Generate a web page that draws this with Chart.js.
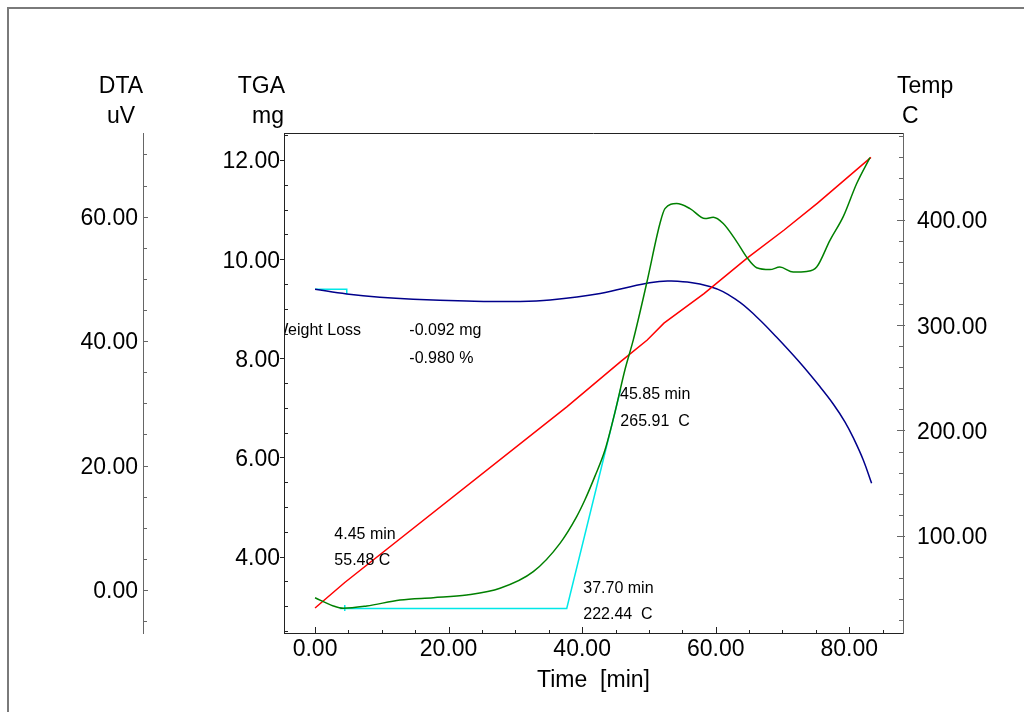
<!DOCTYPE html>
<html>
<head>
<meta charset="utf-8">
<title>TGA / DTA</title>
<script src="https://cdn.jsdelivr.net/npm/chart.js@4.4.0/dist/chart.umd.min.js"></script>
<style>
  html, body { margin: 0; padding: 0; background: #fff; }
  #wrap { position: relative; width: 1024px; height: 712px; }
</style>
</head>
<body>
<div id="wrap"><canvas id="thermoChart" width="1024" height="712"></canvas></div>
<script>
// Values (time in min)
const tempTime   = [0, 4.45, 37.7, 45.85, 49.75, 52.25, 58.25, 64.75, 70.25, 75.25, 83.25];
const tempValues = [31.3, 55.5, 222.4, 265.9, 286, 302, 330, 364, 390.5, 416, 459.6];

const tgaTime   = [0, 4.75, 9.7, 14.7, 22.7, 30.7, 35.2, 42.7, 49.7, 53.2, 59.1, 63.1, 66.1, 69.1, 72.5, 75.6, 77.6, 79.35, 80.6, 82.1, 83.35];
const tgaValues = [9.393, 9.298, 9.23, 9.19, 9.157, 9.147, 9.177, 9.31, 9.514, 9.56, 9.45, 9.18, 8.84, 8.43, 7.93, 7.43, 7.08, 6.72, 6.40, 5.95, 5.48];

const dtaTime   = [0, 2.74, 4.24, 7.74, 12.73, 17.71, 22.71, 27.7, 32.68, 36.68, 39.18, 40.42, 41.92, 43.42, 44.92, 46.41, 47.66, 49.66, 51.65, 52.4, 54.15, 56.15, 58.4, 59.63, 61.13, 63.14, 64.64, 66.13, 68.12, 69.61, 71.61, 73.62, 75.12, 77.11, 79.1, 81.1, 83.1];
const dtaValues = [-1.24, -2.57, -2.94, -2.57, -1.61, -1.24, -0.8, 0.27, 2.94, 7.5, 11.8, 14.5, 18.3, 22.5, 28.6, 35.4, 40.2, 49.3, 58.9, 61.3, 62.1, 61.3, 59.7, 59.9, 58.9, 56.0, 53.5, 51.8, 51.5, 51.9, 51.1, 51.2, 51.9, 56.2, 60.0, 65.3, 69.5];

// Onset construction on the DTA curve (baseline + tangent) and the marker at 4.45 min
const onsetTime   = [3.7, 37.69, 45.77];
const onsetValues = [-2.97, -2.97, 32.3];
const markTime    = [4.45, 4.45];
const markValues  = [-2.41, -3.38];

// Weight-loss step on the TGA curve
const stepTime   = [0, 4.75, 4.75];
const stepValues = [9.393, 9.393, 9.298];

// Axis ranges and labelled ticks
const timeRange = [-4.65, 88.05];
const tgaRange  = [2.46, 12.545];
const dtaRange  = [-6.91, 73.45];
const tempRange = [7.53, 482.7];

const timeTicks = [0, 20, 40, 60, 80];
const tgaTicks  = [4, 6, 8, 10, 12];
const dtaTicks  = [0, 20, 40, 60];
const tempTicks = [100, 200, 300, 400];

const FONT = '"Liberation Sans", Arial, sans-serif';

/**
 * Joins an x array and a y array into {x, y} points.
 */
function toPoints(xs, ys) {
    return xs.map((x, i) => ({ x: x, y: ys[i] }));
}

/**
 * Forces a scale to a fixed size so the plot area lands where it does in the original.
 */
function fixedSize(size) {
    return scale => {
        if (scale.isHorizontal()) scale.height = size;
        else scale.width = size;
        scale.paddingTop = 0;
        scale.paddingBottom = 0;
        scale.paddingLeft = 0;
        scale.paddingRight = 0;
    };
}

function axisOptions(position, range, tickValues, size, padding, borderColor, weight) {
    const vertical = position === 'left' || position === 'right';
    return {
        type: 'linear',
        position: position,
        min: range[0],
        max: range[1],
        weight: weight || 0,
        grid: { display: false, drawTicks: false },
        border: { display: true, color: borderColor, width: 1 },
        afterBuildTicks: scale => {
            scale.ticks = tickValues.map(v => ({ value: v }));
        },
        ticks: {
            autoSkip: false,
            padding: padding,
            labelOffset: vertical ? 2 : 0,
            color: '#000',
            font: { family: FONT, size: 23 },
            callback: v => Number(v).toFixed(2)
        },
        afterFit: fixedSize(size)
    };
}

// Minor/major tick marks drawn along each axis line
const tickMarks = [
    { id: 'x',    step: 5,   major: 20,  majorIn: 6, majorOut: 0, minorIn: 3 },
    { id: 'tga',  step: 0.5, major: 2,   majorIn: 0, majorOut: 4, minorIn: 4 },
    { id: 'dta',  step: 5,   major: 20,  majorIn: 5, majorOut: 0, minorIn: 4 },
    { id: 'temp', step: 20,  major: 100, majorIn: 6, majorOut: 2, minorIn: 4 }
];

// Text notes placed in data coordinates
const notes = [
    { text: 'Weight Loss', t: 6.89,  axis: 'tga', v: 8.471, align: 'right' },
    { text: '-0.092 mg',   t: 14.12, axis: 'tga', v: 8.471, align: 'left' },
    { text: '-0.980 %',    t: 14.12, axis: 'tga', v: 7.912, align: 'left' },
    { text: '4.45 min',    t: 2.89,  axis: 'dta', v: 8.15,  align: 'left' },
    { text: '55.48 C',     t: 2.89,  axis: 'dta', v: 4.02,  align: 'left' },
    { text: '37.70 min',   t: 40.17, axis: 'dta', v: -0.53, align: 'left' },
    { text: '222.44  C',   t: 40.17, axis: 'dta', v: -4.74, align: 'left' },
    { text: '45.85 min',   t: 45.67, axis: 'dta', v: 30.65, align: 'left' },
    { text: '265.91  C',   t: 45.72, axis: 'dta', v: 26.36, align: 'left' }
];

const decorPlugin = {
    id: 'decor',
    afterDraw(chart) {
        const { ctx, chartArea: area, scales } = chart;
        ctx.save();

        // outer frame (only left and top edges are visible)
        ctx.strokeStyle = '#7a7a7a';
        ctx.lineWidth = 2;
        ctx.beginPath();
        ctx.moveTo(8, 712);
        ctx.lineTo(8, 8);
        ctx.lineTo(1024, 8);
        ctx.stroke();

        // top edge of the plot box
        ctx.strokeStyle = '#222';
        ctx.lineWidth = 1;
        ctx.beginPath();
        ctx.moveTo(area.left, Math.round(area.top) + 0.5);
        ctx.lineTo(area.right, Math.round(area.top) + 0.5);
        ctx.stroke();

        // tick marks
        tickMarks.forEach(spec => {
            const s = scales[spec.id];
            const first = Math.ceil(s.min / spec.step);
            const last = Math.floor(s.max / spec.step);
            ctx.strokeStyle = s.options.border.color;
            ctx.lineWidth = 1;
            ctx.beginPath();
            for (let k = first; k <= last; k++) {
                const v = k * spec.step;
                const isMajor = Math.abs(v / spec.major - Math.round(v / spec.major)) < 1e-6;
                const inLen = isMajor ? spec.majorIn : spec.minorIn;
                const outLen = isMajor ? spec.majorOut : 0;
                const p = Math.round(s.getPixelForValue(v)) + 0.5;
                if (spec.id === 'x') {
                    const y0 = s.top;
                    ctx.moveTo(p, y0 + outLen);
                    ctx.lineTo(p, y0 - inLen);
                } else if (s.position === 'left') {
                    const x0 = s.right;
                    ctx.moveTo(x0 - outLen, p);
                    ctx.lineTo(x0 + inLen, p);
                } else {
                    const x0 = s.left;
                    ctx.moveTo(x0 + outLen, p);
                    ctx.lineTo(x0 - inLen, p);
                }
            }
            ctx.stroke();
        });

        // axis titles
        ctx.fillStyle = '#000';
        ctx.font = '23px ' + FONT;
        ctx.textBaseline = 'alphabetic';
        const dtaX = scales.dta.right - 22;
        ctx.textAlign = 'center';
        ctx.fillText('DTA', dtaX, area.top - 40);
        ctx.fillText('uV', dtaX, area.top - 10);
        ctx.textAlign = 'right';
        ctx.fillText('TGA', area.left + 1, area.top - 40);
        ctx.fillText('mg', area.left, area.top - 10);
        ctx.textAlign = 'left';
        ctx.fillText('Temp', area.right - 6, area.top - 40);
        ctx.fillText('C', area.right - 1, area.top - 10);
        ctx.textAlign = 'center';
        ctx.fillText('Time  [min]', (area.left + area.right) / 2, area.bottom + 54);

        // notes, clipped to the plot box
        ctx.beginPath();
        ctx.rect(area.left + 1, area.top, area.right - area.left, area.bottom - area.top);
        ctx.clip();
        ctx.font = '16px ' + FONT;
        notes.forEach(n => {
            ctx.textAlign = n.align;
            ctx.fillText(n.text, scales.x.getPixelForValue(n.t), scales[n.axis].getPixelForValue(n.v));
        });

        ctx.restore();
    }
};

function lineSet(label, xs, ys, axis, color, tension, monotone, order) {
    return {
        label: label,
        data: toPoints(xs, ys),
        yAxisID: axis,
        borderColor: color,
        backgroundColor: color,
        borderWidth: 1.5,
        pointRadius: 0,
        tension: tension,
        cubicInterpolationMode: monotone ? 'monotone' : 'default',
        fill: false,
        order: order
    };
}

const chart = new Chart(document.getElementById('thermoChart').getContext('2d'), {
    type: 'line',
    data: {
        datasets: [
            lineSet('Onset', onsetTime, onsetValues, 'dta', '#00e8e8', 0, false, 4),
            lineSet('Marker', markTime, markValues, 'dta', '#00e8e8', 0, false, 4),
            lineSet('Step', stepTime, stepValues, 'tga', '#00e8e8', 0, false, 4),
            lineSet('Temp', tempTime, tempValues, 'temp', '#ff0000', 0, false, 2),
            lineSet('TGA', tgaTime, tgaValues, 'tga', '#00008b', 0.4, false, 3),
            lineSet('DTA', dtaTime, dtaValues, 'dta', '#008000', 0.4, true, 1)
        ]
    },
    options: {
        responsive: false,
        animation: false,
        devicePixelRatio: 1,
        layout: { padding: { top: 133, left: 0, right: 0, bottom: 0 } },
        plugins: {
            legend: { display: false },
            tooltip: { enabled: false }
        },
        scales: {
            x: axisOptions('bottom', timeRange, timeTicks, 79, 3, '#222'),
            dta: axisOptions('left', dtaRange, dtaTicks, 143, 5, '#666', 1),
            tga: axisOptions('left', tgaRange, tgaTicks, 141, 4, '#222', 0),
            temp: axisOptions('right', tempRange, tempTicks, 121, 14, '#666', 0)
        }
    },
    plugins: [decorPlugin]
});
</script>
</body>
</html>
